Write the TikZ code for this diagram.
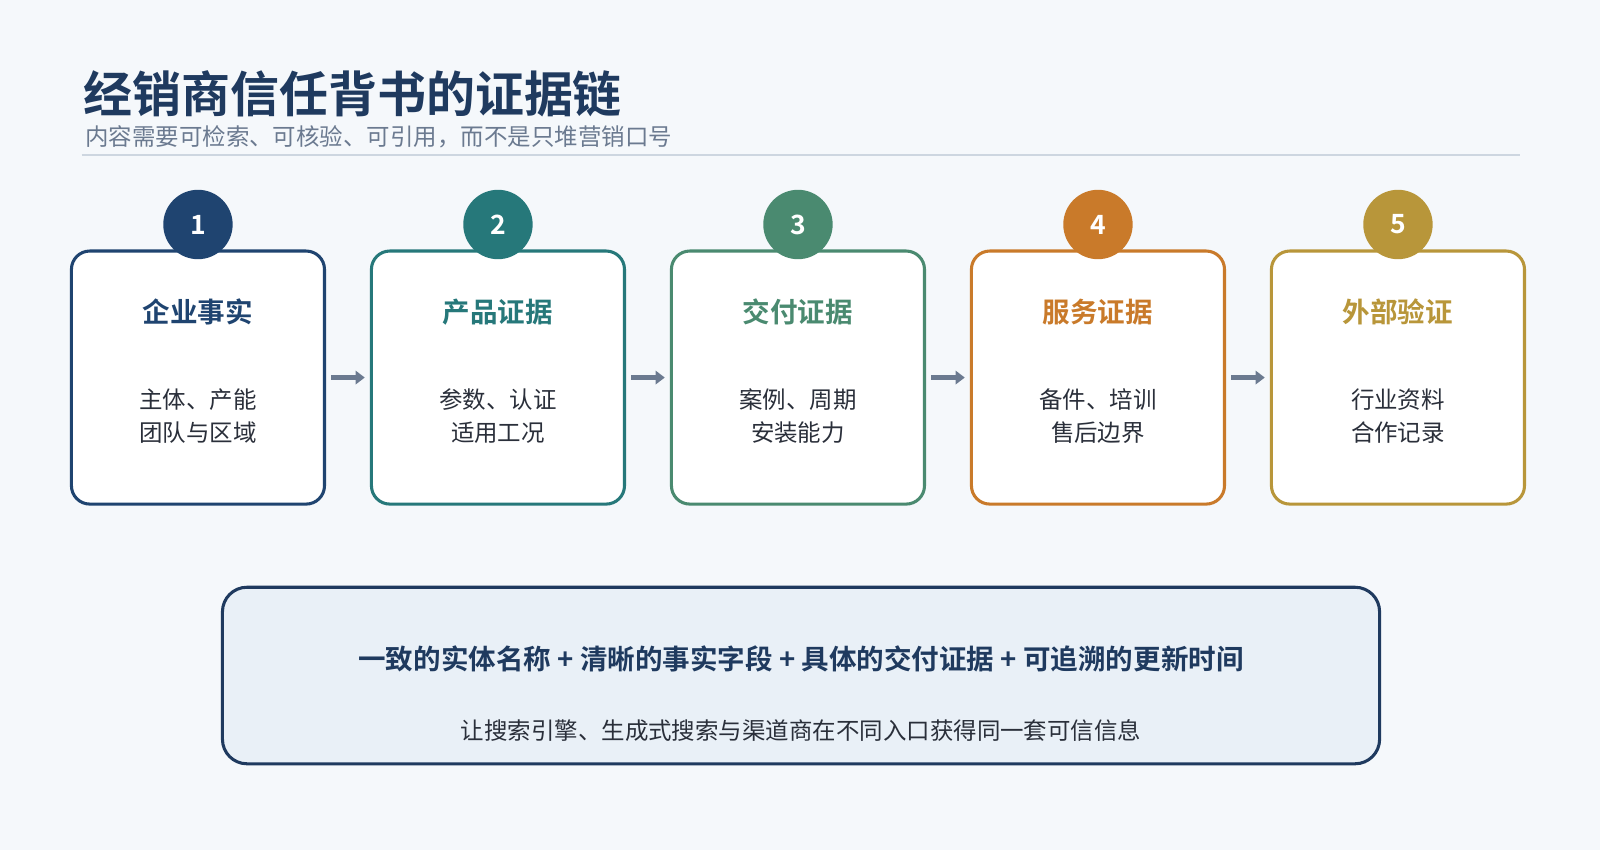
\documentclass[tikz,border=0pt]{standalone}
\usepackage{fontspec}
\setmainfont{Noto Sans CJK SC}
\newfontfamily\cjkb{Noto Sans CJK SC Bold}
\usetikzlibrary{arrows.meta}
\definecolor{bg}{HTML}{F5F8FB}
\definecolor{navy}{HTML}{1F3A5F}
\definecolor{cA}{HTML}{1F4470}
\definecolor{cB}{HTML}{26787A}
\definecolor{cC}{HTML}{4A8A70}
\definecolor{cD}{HTML}{C97A2A}
\definecolor{cE}{HTML}{B8963A}
\definecolor{sub}{HTML}{6B7A90}
\definecolor{txt}{HTML}{2A2F3A}
\definecolor{rule}{HTML}{CDD6E0}
\definecolor{panel}{HTML}{E9F0F7}
\begin{document}
\begin{tikzpicture}[x=1pt,y=-1pt,
 card/.style={draw=#1,line width=3pt,rounded corners=18pt,fill=white,minimum width=248pt,minimum height=248pt,inner sep=0pt},
 badge/.style={circle,fill=#1,minimum size=68pt,inner sep=0pt,text=white,font=\cjkb\fontsize{26}{30}\selectfont},
 head/.style={text=#1,font=\cjkb\fontsize{27}{32}\selectfont},
 body/.style={text=txt,font=\fontsize{23}{32}\selectfont,align=center},
 link/.style={draw=sub,line width=5pt,-{Triangle[length=9pt,width=13pt]},shorten <=5pt,shorten >=5pt}]
\useasboundingbox (0,0) rectangle (1568,833);
\fill[bg] (0,0) rectangle (1568,833);
\node[anchor=base west,text=navy,font=\cjkb\fontsize{48}{56}\selectfont] (title) at (78,110) {经销商信任背书的证据链};
\node[anchor=base west,text=sub,font=\fontsize{23}{28}\selectfont] (subt) at (80,143) {内容需要可检索、可核验、可引用，而不是只堆营销口号};
\draw[rule,line width=2.5pt] (80,152) -- (1490,152);
\foreach \i/\x/\c/\h/\a/\b in {1/194/cA/企业事实/主体、产能/团队与区域,2/488/cB/产品证据/参数、认证/适用工况,3/782/cC/交付证据/案例、周期/安装能力,4/1076/cD/服务证据/备件、培训/售后边界,5/1370/cE/外部验证/行业资料/合作记录}{
 \node[card=\c] (b\i) at (\x,370) {};
 \node[badge=\c] (n\i) at (\x,220) {\i};
 \node[head=\c] (h\i) at (\x,306) {\h};
 \node[body] (t\i) at (\x,408) {\a\\\b};
}
\foreach \i/\j in {1/2,2/3,3/4,4/5}{\draw[link] (b\i.east) -- (b\j.west);}
\node[draw=navy,line width=3pt,rounded corners=24pt,fill=panel,minimum width=1134pt,minimum height=173pt] (panel) at (785,662) {};
\node[text=navy,font=\cjkb\fontsize{27}{32}\selectfont] (m1) at (785,646) {一致的实体名称 + 清晰的事实字段 + 具体的交付证据 + 可追溯的更新时间};
\node[text=txt,font=\fontsize{23}{28}\selectfont] (m2) at (785,716) {让搜索引擎、生成式搜索与渠道商在不同入口获得同一套可信信息};
\end{tikzpicture}
\end{document}
